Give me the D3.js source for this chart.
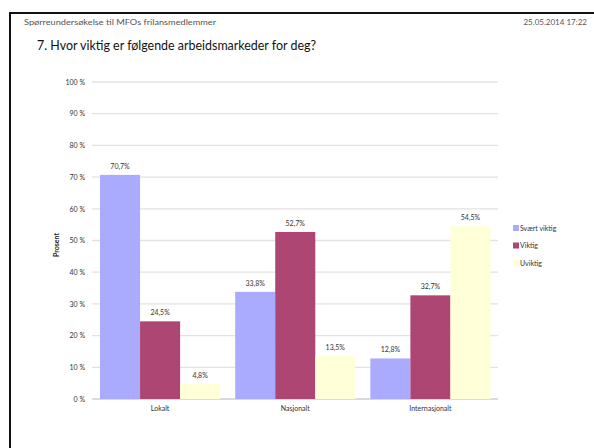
<!DOCTYPE html>
<html>
<head>
<meta charset="utf-8">
<script src="https://cdn.jsdelivr.net/npm/d3@7"></script>
<style>
  html, body { margin: 0; padding: 0; background: #fff; }
  svg { display: block; font-family: Lato, "Open Sans", sans-serif; }
</style>
</head>
<body>
<svg id="chart" width="594" height="448"></svg>
<script>
// Survey answers, percent of respondents per market
const categories = ["Lokalt", "Nasjonalt", "Internasjonalt"];
const seriesNames = ["Svært viktig", "Viktig", "Uviktig"];
const svaertViktig = [70.7, 33.8, 12.8];
const viktig = [24.5, 52.7, 32.7];
const uviktig = [4.8, 13.5, 54.5];
const yTicks = [0, 10, 20, 30, 40, 50, 60, 70, 80, 90, 100];
const colors = ["#aaaaff", "#ad4673", "#ffffd8"];

const seriesValues = [svaertViktig, viktig, uviktig];
const fmt = v => v.toFixed(1).replace(".", ",") + "%";

const svg = d3.select("#chart");

// Page frame: top rule and left rule
svg.append("line").attr("x1", 9).attr("x2", 594).attr("y1", 13).attr("y2", 13)
  .attr("stroke", "#111").attr("stroke-width", 2);
svg.append("line").attr("x1", 10).attr("x2", 10).attr("y1", 12).attr("y2", 448)
  .attr("stroke", "#111").attr("stroke-width", 2);

// Header
svg.append("text").attr("x", 24).attr("y", 25)
  .attr("font-size", 8).attr("fill", "#555")
  .attr("textLength", 192).attr("lengthAdjust", "spacingAndGlyphs")
  .text("Spørreundersøkelse til MFOs frilansmedlemmer");
svg.append("text").attr("x", 587).attr("y", 25).attr("text-anchor", "end")
  .attr("font-size", 8).attr("fill", "#555")
  .text("25.05.2014 17:22");

svg.append("text").attr("x", 37).attr("y", 50)
  .attr("font-size", 13).attr("fill", "#111")
  .attr("textLength", 279).attr("lengthAdjust", "spacingAndGlyphs")
  .text("7. Hvor viktig er følgende arbeidsmarkeder for deg?");

// Plot area
const x0 = d3.scaleBand().domain(categories).range([92.5, 498])
  .paddingInner(15 / 135).paddingOuter(7.5 / 135);
const x1 = d3.scaleBand().domain(seriesNames).range([0, x0.bandwidth()]);
const y = d3.scaleLinear().domain([0, 100]).range([399, 82]);

// Gridlines
svg.append("g").selectAll("line").data(yTicks).join("line")
  .attr("x1", 92).attr("x2", 498)
  .attr("y1", d => y(d)).attr("y2", d => y(d))
  .attr("stroke", d => d === 0 ? "#cfcfcf" : "#e2e2e2").attr("stroke-width", 1.3);

// Y axis labels
const yAxis = d3.axisLeft(y).tickValues(yTicks).tickSize(0).tickPadding(0)
  .tickFormat(d => d + " %");
const gy = svg.append("g").attr("transform", "translate(85,0)").call(yAxis);
gy.select(".domain").remove();
gy.selectAll("text").attr("font-size", 7).attr("fill", "#333")
  .attr("font-family", "Lato, sans-serif");

svg.append("text")
  .attr("transform", "translate(59,245) rotate(-90)")
  .attr("text-anchor", "middle").attr("font-size", 7).attr("font-weight", "bold").attr("fill", "#222")
  .text("Prosent");

// Bars
const groups = svg.append("g").selectAll("g").data(categories).join("g")
  .attr("transform", d => `translate(${x0(d)},0)`);

groups.selectAll("rect")
  .data((c, i) => seriesNames.map((s, j) => ({ s, j, v: seriesValues[j][i] })))
  .join("rect")
  .attr("x", d => x1(d.s)).attr("width", x1.bandwidth())
  .attr("y", d => y(d.v)).attr("height", d => y(0) - y(d.v))
  .attr("fill", d => colors[d.j]);

groups.selectAll("text.val")
  .data((c, i) => seriesNames.map((s, j) => ({ s, j, v: seriesValues[j][i] })))
  .join("text").attr("class", "val")
  .attr("x", d => x1(d.s) + x1.bandwidth() / 2)
  .attr("y", d => y(d.v) - 6)
  .attr("text-anchor", "middle").attr("font-size", 7).attr("fill", "#333")
  .text(d => fmt(d.v));

// Category labels
const xAxis = d3.axisBottom(x0).tickSize(0).tickPadding(0);
const gx = svg.append("g").attr("transform", "translate(0,406)").call(xAxis);
gx.select(".domain").remove();
gx.selectAll("text").attr("font-size", 7).attr("fill", "#333")
  .attr("font-family", "Lato, sans-serif");

// Legend
const legend = svg.append("g").selectAll("g").data(seriesNames).join("g")
  .attr("transform", (d, i) => `translate(513,${225 + i * 17.5})`);
legend.append("rect").attr("width", 6).attr("height", 6)
  .attr("fill", (d, i) => colors[i]);
legend.append("text").attr("x", 7).attr("y", 5.5)
  .attr("font-size", 7).attr("fill", "#333").text(d => d);
</script>
</body>
</html>
